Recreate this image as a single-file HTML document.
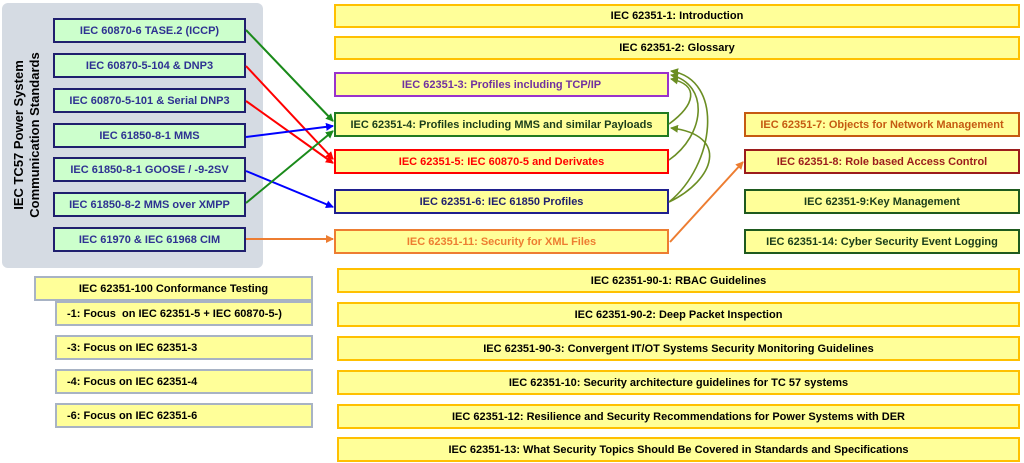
<!DOCTYPE html>
<html><head><style>
body{margin:0;width:1024px;height:463px;background:#fff;position:relative;overflow:hidden;font-family:"Liberation Sans",sans-serif;font-weight:bold;font-size:11px}
.b{position:absolute;box-sizing:border-box;display:flex;align-items:center;justify-content:center;white-space:nowrap;background:#ffff99}
.l{background:#ccffcc;border:2px solid #1f1f6e;color:#2e3192;left:53px;width:193px;height:25px}
.o{border:2px solid #ffc000;color:#000}
.g{border:2px solid #a8b3c4;color:#000;background:#ffff99}
.s{justify-content:flex-start;padding-left:10px}
</style></head><body>
<div style="position:absolute;left:2px;top:3px;width:261px;height:265px;background:#d5dbe3;border-radius:6px"></div>
<div style="position:absolute;left:27px;top:135px;transform:translate(-50%,-50%) rotate(-90deg);font-size:13px;line-height:16px;text-align:center;color:#000;white-space:nowrap">IEC TC57 Power System<br>Communication Standards</div>
<div class="b l" style="top:18px">IEC 60870-6 TASE.2 (ICCP)</div>
<div class="b l" style="top:53px">IEC 60870-5-104 &amp; DNP3</div>
<div class="b l" style="top:88px">IEC 60870-5-101 &amp; Serial DNP3</div>
<div class="b l" style="top:123px">IEC 61850-8-1 MMS</div>
<div class="b l" style="top:157px">IEC 61850-8-1 GOOSE / -9-2SV</div>
<div class="b l" style="top:192px">IEC 61850-8-2 MMS over XMPP</div>
<div class="b l" style="top:227px">IEC 61970 &amp; IEC 61968 CIM</div>

<div class="b o" style="left:334px;top:4px;width:686px;height:24px">IEC 62351-1: Introduction</div>
<div class="b o" style="left:334px;top:36px;width:686px;height:24px">IEC 62351-2: Glossary</div>
<div class="b" style="left:334px;top:72px;width:335px;height:25px;border:2px solid #9933cc;color:#7030a0">IEC 62351-3: Profiles including TCP/IP</div>
<div class="b" style="left:334px;top:112px;width:335px;height:25px;border:2px solid #217a21;color:#1a3d1a">IEC 62351-4: Profiles including MMS and similar Payloads</div>
<div class="b" style="left:334px;top:149px;width:335px;height:25px;border:2px solid #ff0000;color:#ff0000">IEC 62351-5: IEC 60870-5 and Derivates</div>
<div class="b" style="left:334px;top:189px;width:335px;height:25px;border:2px solid #1f1f8e;color:#1f1f6e">IEC 62351-6: IEC 61850 Profiles</div>
<div class="b" style="left:334px;top:229px;width:335px;height:25px;border:2px solid #ed7d31;color:#ed7d31">IEC 62351-11: Security for XML Files</div>

<div class="b" style="left:744px;top:112px;width:276px;height:25px;border:2px solid #c55a11;color:#c55a11">IEC 62351-7: Objects for Network Management</div>
<div class="b" style="left:744px;top:149px;width:276px;height:25px;border:2px solid #9b1c1c;color:#9b1c1c">IEC 62351-8: Role based Access Control</div>
<div class="b" style="left:744px;top:189px;width:276px;height:25px;border:2px solid #1e5a1e;color:#1a3d1a">IEC 62351-9:Key Management</div>
<div class="b" style="left:744px;top:229px;width:276px;height:25px;border:2px solid #1e5a1e;color:#1a3d1a">IEC 62351-14: Cyber Security Event Logging</div>

<div class="b o" style="left:337px;top:268px;width:683px;height:25px">IEC 62351-90-1: RBAC Guidelines</div>
<div class="b o" style="left:337px;top:302px;width:683px;height:25px">IEC 62351-90-2: Deep Packet Inspection</div>
<div class="b o" style="left:337px;top:336px;width:683px;height:25px">IEC 62351-90-3: Convergent IT/OT Systems Security Monitoring Guidelines</div>
<div class="b o" style="left:337px;top:370px;width:683px;height:25px">IEC 62351-10: Security architecture guidelines for TC 57 systems</div>
<div class="b o" style="left:337px;top:404px;width:683px;height:25px">IEC 62351-12: Resilience and Security Recommendations for Power Systems with DER</div>
<div class="b o" style="left:337px;top:437px;width:683px;height:25px">IEC 62351-13: What Security Topics Should Be Covered in Standards and Specifications</div>

<div class="b g" style="left:34px;top:276px;width:279px;height:25px">IEC 62351-100 Conformance Testing</div>
<div class="b g s" style="left:55px;top:301px;width:258px;height:25px">-1: Focus&nbsp; on IEC 62351-5 + IEC 60870-5-)</div>
<div class="b g s" style="left:55px;top:335px;width:258px;height:25px">-3: Focus on IEC 62351-3</div>
<div class="b g s" style="left:55px;top:369px;width:258px;height:25px">-4: Focus on IEC 62351-4</div>
<div class="b g s" style="left:55px;top:403px;width:258px;height:25px">-6: Focus on IEC 62351-6</div>

<svg width="1024" height="463" style="position:absolute;left:0;top:0" fill="none" stroke-width="2">
<defs>
<marker id="ag" markerWidth="8" markerHeight="8" refX="7" refY="4" orient="auto" markerUnits="userSpaceOnUse"><path d="M0,0L8,4L0,8z" fill="#1a8a1a" stroke="none"/></marker>
<marker id="ar" markerWidth="8" markerHeight="8" refX="7" refY="4" orient="auto" markerUnits="userSpaceOnUse"><path d="M0,0L8,4L0,8z" fill="#f00" stroke="none"/></marker>
<marker id="ab" markerWidth="8" markerHeight="8" refX="7" refY="4" orient="auto" markerUnits="userSpaceOnUse"><path d="M0,0L8,4L0,8z" fill="#00f" stroke="none"/></marker>
<marker id="ao" markerWidth="8" markerHeight="8" refX="7" refY="4" orient="auto" markerUnits="userSpaceOnUse"><path d="M0,0L8,4L0,8z" fill="#ed7d31" stroke="none"/></marker>
<marker id="av" markerWidth="8" markerHeight="8" refX="7" refY="4" orient="auto" markerUnits="userSpaceOnUse"><path d="M0,0L8,4L0,8z" fill="#6b8e23" stroke="none"/></marker>
</defs>
<path d="M246,30L333,121" stroke="#1a8a1a" marker-end="url(#ag)"/>
<path d="M246,66L333,159" stroke="#f00" marker-end="url(#ar)"/>
<path d="M246,101L333,163" stroke="#f00" marker-end="url(#ar)"/>
<path d="M246,137L333,126" stroke="#00f" marker-end="url(#ab)"/>
<path d="M246,171L333,207" stroke="#00f" marker-end="url(#ab)"/>
<path d="M246,203L333,131" stroke="#1a8a1a" marker-end="url(#ag)"/>
<path d="M246,239L333,239" stroke="#ed7d31" marker-end="url(#ao)"/>
<path d="M670,242L743,162" stroke="#ed7d31" marker-end="url(#ao)"/>
<g stroke="#6b8e23" stroke-width="1.6">
<path d="M669,124C695,105 700,85 671,79" marker-end="url(#av)"/>
<path d="M669,160C705,135 710,85 671,75" marker-end="url(#av)"/>
<path d="M669,202C715,165 725,80 671,71" marker-end="url(#av)"/>
<path d="M669,202C715,180 730,135 671,128" marker-end="url(#av)"/>
</g>
</svg>
</body></html>
